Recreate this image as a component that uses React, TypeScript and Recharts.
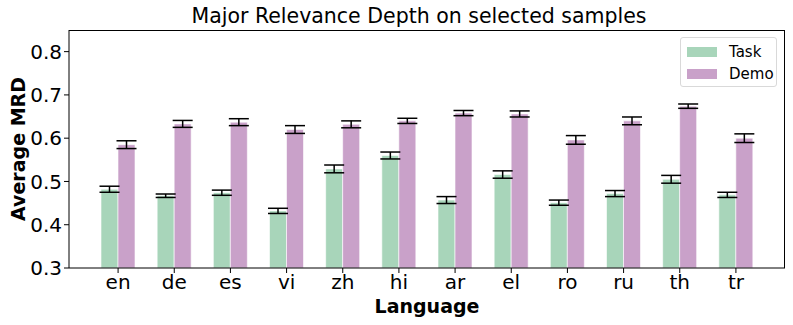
import { BarChart, Bar, XAxis, YAxis, ErrorBar, Label } from "recharts";

const languages = ["en", "de", "es", "vi", "zh", "hi", "ar", "el", "ro", "ru", "th", "tr"];
const taskMean = [0.482, 0.467, 0.474, 0.432, 0.529, 0.56, 0.457, 0.516, 0.451, 0.472, 0.505, 0.469];
const taskErr = [0.007, 0.004, 0.006, 0.006, 0.009, 0.008, 0.008, 0.0085, 0.006, 0.007, 0.009, 0.006];
const demoMean = [0.585, 0.633, 0.637, 0.62, 0.632, 0.64, 0.658, 0.656, 0.596, 0.64, 0.674, 0.6];
const demoErr = [0.009, 0.008, 0.008, 0.009, 0.008, 0.006, 0.006, 0.007, 0.01, 0.009, 0.005, 0.01];
const yTicks = [0.3, 0.4, 0.5, 0.6, 0.7, 0.8];
const seriesNames = ["Task", "Demo"];

const TASK_COLOR = "#a8d5ba";
const DEMO_COLOR = "#c9a1c9";
const FONT = "'DejaVu Sans', sans-serif";

const data = languages.map((lang, i) => ({
  lang,
  Task: taskMean[i],
  taskErr: taskErr[i],
  Demo: demoMean[i],
  demoErr: demoErr[i],
}));

const TICK_STYLE = { fontSize: 20, fill: "#000", fontFamily: FONT };

function LegendBox() {
  const colors = [TASK_COLOR, DEMO_COLOR];
  return (
    <div
      style={{
        position: "absolute",
        left: 680,
        top: 37,
        width: 97,
        height: 50,
        border: "1px solid #d9d9d9",
        borderRadius: 3,
        background: "#fff",
        padding: "3px 0 0 6px",
        fontFamily: FONT,
        fontSize: 15,
        color: "#000",
        boxSizing: "border-box",
      }}
    >
      {seriesNames.map((name, i) => (
        <div key={name} style={{ display: "flex", alignItems: "center", height: 22 }}>
          <span style={{ display: "inline-block", width: 30, height: 10, background: colors[i], marginRight: 12 }} />
          <span>{name}</span>
        </div>
      ))}
    </div>
  );
}

export default function App() {
  return (
    <div style={{ position: "absolute", left: 0, top: 0, width: 793, height: 325, background: "#fff" }}>
      <div
        style={{
          position: "absolute",
          left: 0,
          width: 838,
          top: 4,
          textAlign: "center",
          fontFamily: FONT,
          fontSize: 20.5,
          color: "#000",
          lineHeight: "24px",
        }}
      >
        Major Relevance Depth on selected samples
      </div>
      <BarChart
        width={793}
        height={325}
        data={data}
        margin={{ top: 30, right: 8, left: 0, bottom: 0 }}
        barGap={0}
        barSize={17}
      >
        <XAxis
          dataKey="lang"
          tick={TICK_STYLE}
          tickLine={{ stroke: "#000" }}
          axisLine={{ stroke: "#000", strokeWidth: 1 }}
          tickSize={5}
          height={57}
          padding={{ left: 21, right: 21 }}
          interval={0}
        >
          <Label
            content={() => (
              <text
                x={427}
                y={306}
                textAnchor="middle"
                dominantBaseline="central"
                style={{ fontFamily: FONT, fontSize: 19, fontWeight: "bold", fill: "#000" }}
              >
                Language
              </text>
            )}
          />
        </XAxis>
        <YAxis
          domain={[0.3, 0.85]}
          ticks={yTicks}
          allowDataOverflow
          tick={TICK_STYLE}
          tickFormatter={(v: number) => v.toFixed(1)}
          tickLine={{ stroke: "#000" }}
          axisLine={{ stroke: "#000", strokeWidth: 1 }}
          tickSize={5}
          width={69}
        >
          <Label
            content={() => (
              <text
                x={18}
                y={149}
                transform="rotate(-90 18 149)"
                textAnchor="middle"
                dominantBaseline="central"
                style={{ fontFamily: FONT, fontSize: 19, fontWeight: "bold", fill: "#000" }}
              >
                Average MRD
              </text>
            )}
          />
        </YAxis>
        <Bar dataKey="Task" fill={TASK_COLOR} stroke="#fff" strokeWidth={0.6} isAnimationActive={false}>
          <ErrorBar dataKey="taskErr" width={10} stroke="#000" strokeWidth={1.5} direction="y" />
        </Bar>
        <Bar dataKey="Demo" fill={DEMO_COLOR} stroke="#fff" strokeWidth={0.6} isAnimationActive={false}>
          <ErrorBar dataKey="demoErr" width={10} stroke="#000" strokeWidth={1.5} direction="y" />
        </Bar>
      </BarChart>
      {/* axes frame (matplotlib spines) */}
      <div
        style={{
          position: "absolute",
          left: 69,
          top: 30,
          width: 716,
          height: 238,
          borderTop: "1px solid #000",
          borderRight: "1px solid #000",
          boxSizing: "border-box",
          pointerEvents: "none",
        }}
      />
      <LegendBox />
    </div>
  );
}
